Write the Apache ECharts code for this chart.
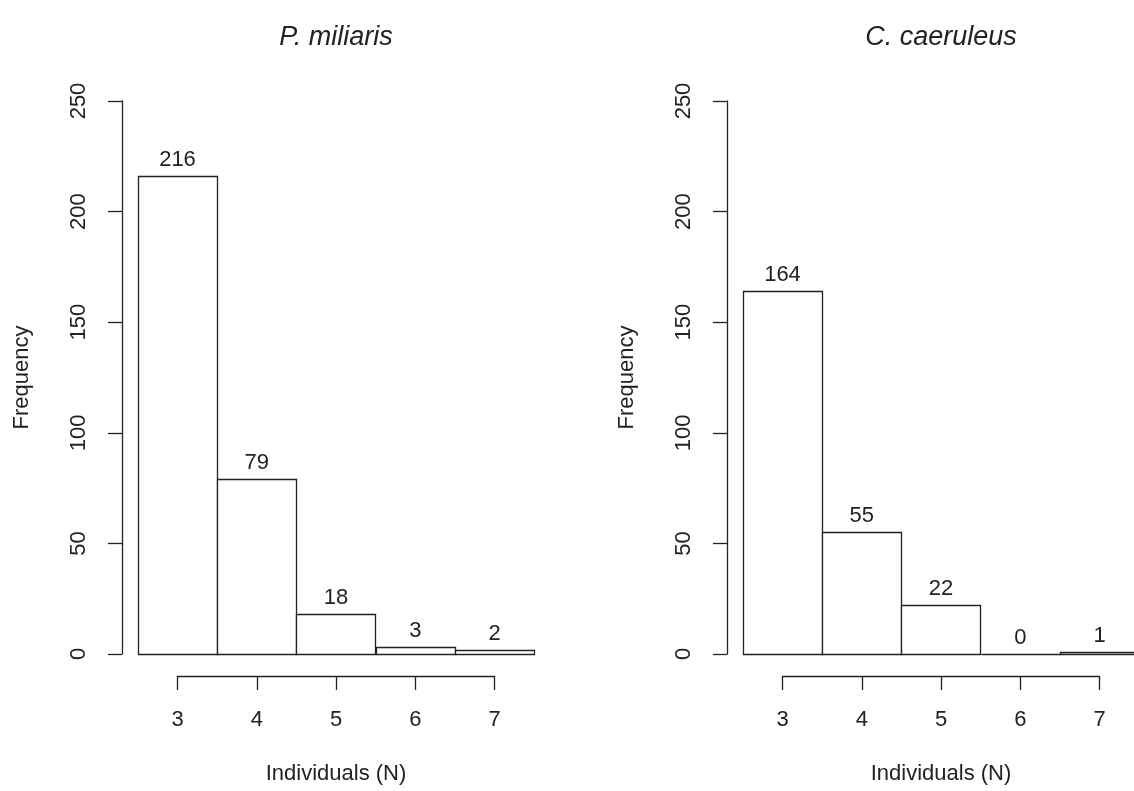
<!DOCTYPE html>
<html>
<head>
    <meta http-equiv="Content-Type" content="text/html; charset=UTF-8">
    <style>
        html, body { margin: 0; padding: 0; background: #fff; }
    </style>
</head>
<body>

    <div id="histChart" style="width:1134px;height:791px"></div>

    <script type="text/javascript" src="https://cdn.jsdelivr.net/npm/echarts@6/dist/echarts.min.js"></script>
    <script type="text/javascript">
        // histogram data
        var bins = [3, 4, 5, 6, 7];
        var miliarisCounts = [216, 79, 18, 3, 2];
        var caeruleusCounts = [164, 55, 22, 0, 1];
        var titles = ['P. miliaris', 'C. caeruleus'];
        var yMax = 250;
        var yStep = 50;

        var font = 'Liberation Sans, Arial, sans-serif';
        var ink = '#222';
        var fs = 22;

        function renderHist(params, api) {
            var x = api.value(0), v = api.value(1);
            var p0 = api.coord([x - 0.5, v]);
            var p1 = api.coord([x + 0.5, 0]);
            return {
                type: 'group',
                children: [{
                    type: 'rect',
                    shape: { x: Math.round(p0[0]) + 0.5, y: Math.round(p0[1]) + 0.5,
                             width: Math.round(p1[0] - p0[0]), height: Math.round(p1[1] - p0[1]) },
                    style: { fill: '#fff', stroke: ink, lineWidth: 1.3 }
                }, {
                    type: 'text',
                    x: (p0[0] + p1[0]) / 2,
                    y: p0[1] - 5,
                    style: { text: String(v), fill: ink, font: fs + 'px ' + font,
                             align: 'center', verticalAlign: 'bottom' }
                }]
            };
        }

        var grids = [], xAxes = [], yAxes = [], series = [], titleArr = [];
        var panels = [miliarisCounts, caeruleusCounts];

        panels.forEach(function (counts, i) {
            var dx = i * 605;

            titleArr.push({
                text: titles[i],
                left: 336 + dx,
                top: 24,
                padding: 0,
                textAlign: 'center',
                textStyle: { fontFamily: font, fontSize: 27, fontStyle: 'italic', fontWeight: 'normal', color: ink }
            });

            // grid spans first to last bin centre, bars hang half a bin over each side
            grids.push({ left: 177.5 + dx, top: 101, width: 317, height: 553 });

            xAxes.push({
                type: 'value', gridIndex: i, min: bins[0], max: bins[bins.length - 1], interval: 1,
                offset: 22,
                name: 'Individuals (N)', nameLocation: 'middle', nameGap: 87,
                nameTextStyle: { fontFamily: font, fontSize: fs, color: ink },
                axisLine: { show: true, onZero: false, lineStyle: { color: ink, width: 1.3 } },
                axisTick: { show: true, length: 14, lineStyle: { color: ink, width: 1.3 } },
                axisLabel: { margin: 33, fontFamily: font, fontSize: fs, color: ink },
                splitLine: { show: false }
            });

            yAxes.push({
                type: 'value', gridIndex: i, min: 0, max: yMax, interval: yStep,
                offset: 55.5,
                name: 'Frequency', nameLocation: 'middle', nameGap: 89, nameRotate: 90,
                nameTextStyle: { fontFamily: font, fontSize: fs, color: ink },
                axisLine: { show: true, onZero: false, lineStyle: { color: ink, width: 1.3 } },
                axisTick: { show: true, length: 14, lineStyle: { color: ink, width: 1.3 } },
                axisLabel: { margin: 32, rotate: 90, fontFamily: font, fontSize: fs, color: ink },
                splitLine: { show: false }
            });

            series.push({
                type: 'custom',
                xAxisIndex: i,
                yAxisIndex: i,
                clip: false,
                renderItem: renderHist,
                data: bins.map(function (b, k) { return [b, counts[k]]; })
            });
        });

        var myChart = echarts.init(document.getElementById('histChart'));
        var option = {
            backgroundColor: '#fff',
            animation: false,
            title: titleArr,
            grid: grids,
            xAxis: xAxes,
            yAxis: yAxes,
            series: series
        };
        myChart.setOption(option);
    </script>
</body>
</html>
